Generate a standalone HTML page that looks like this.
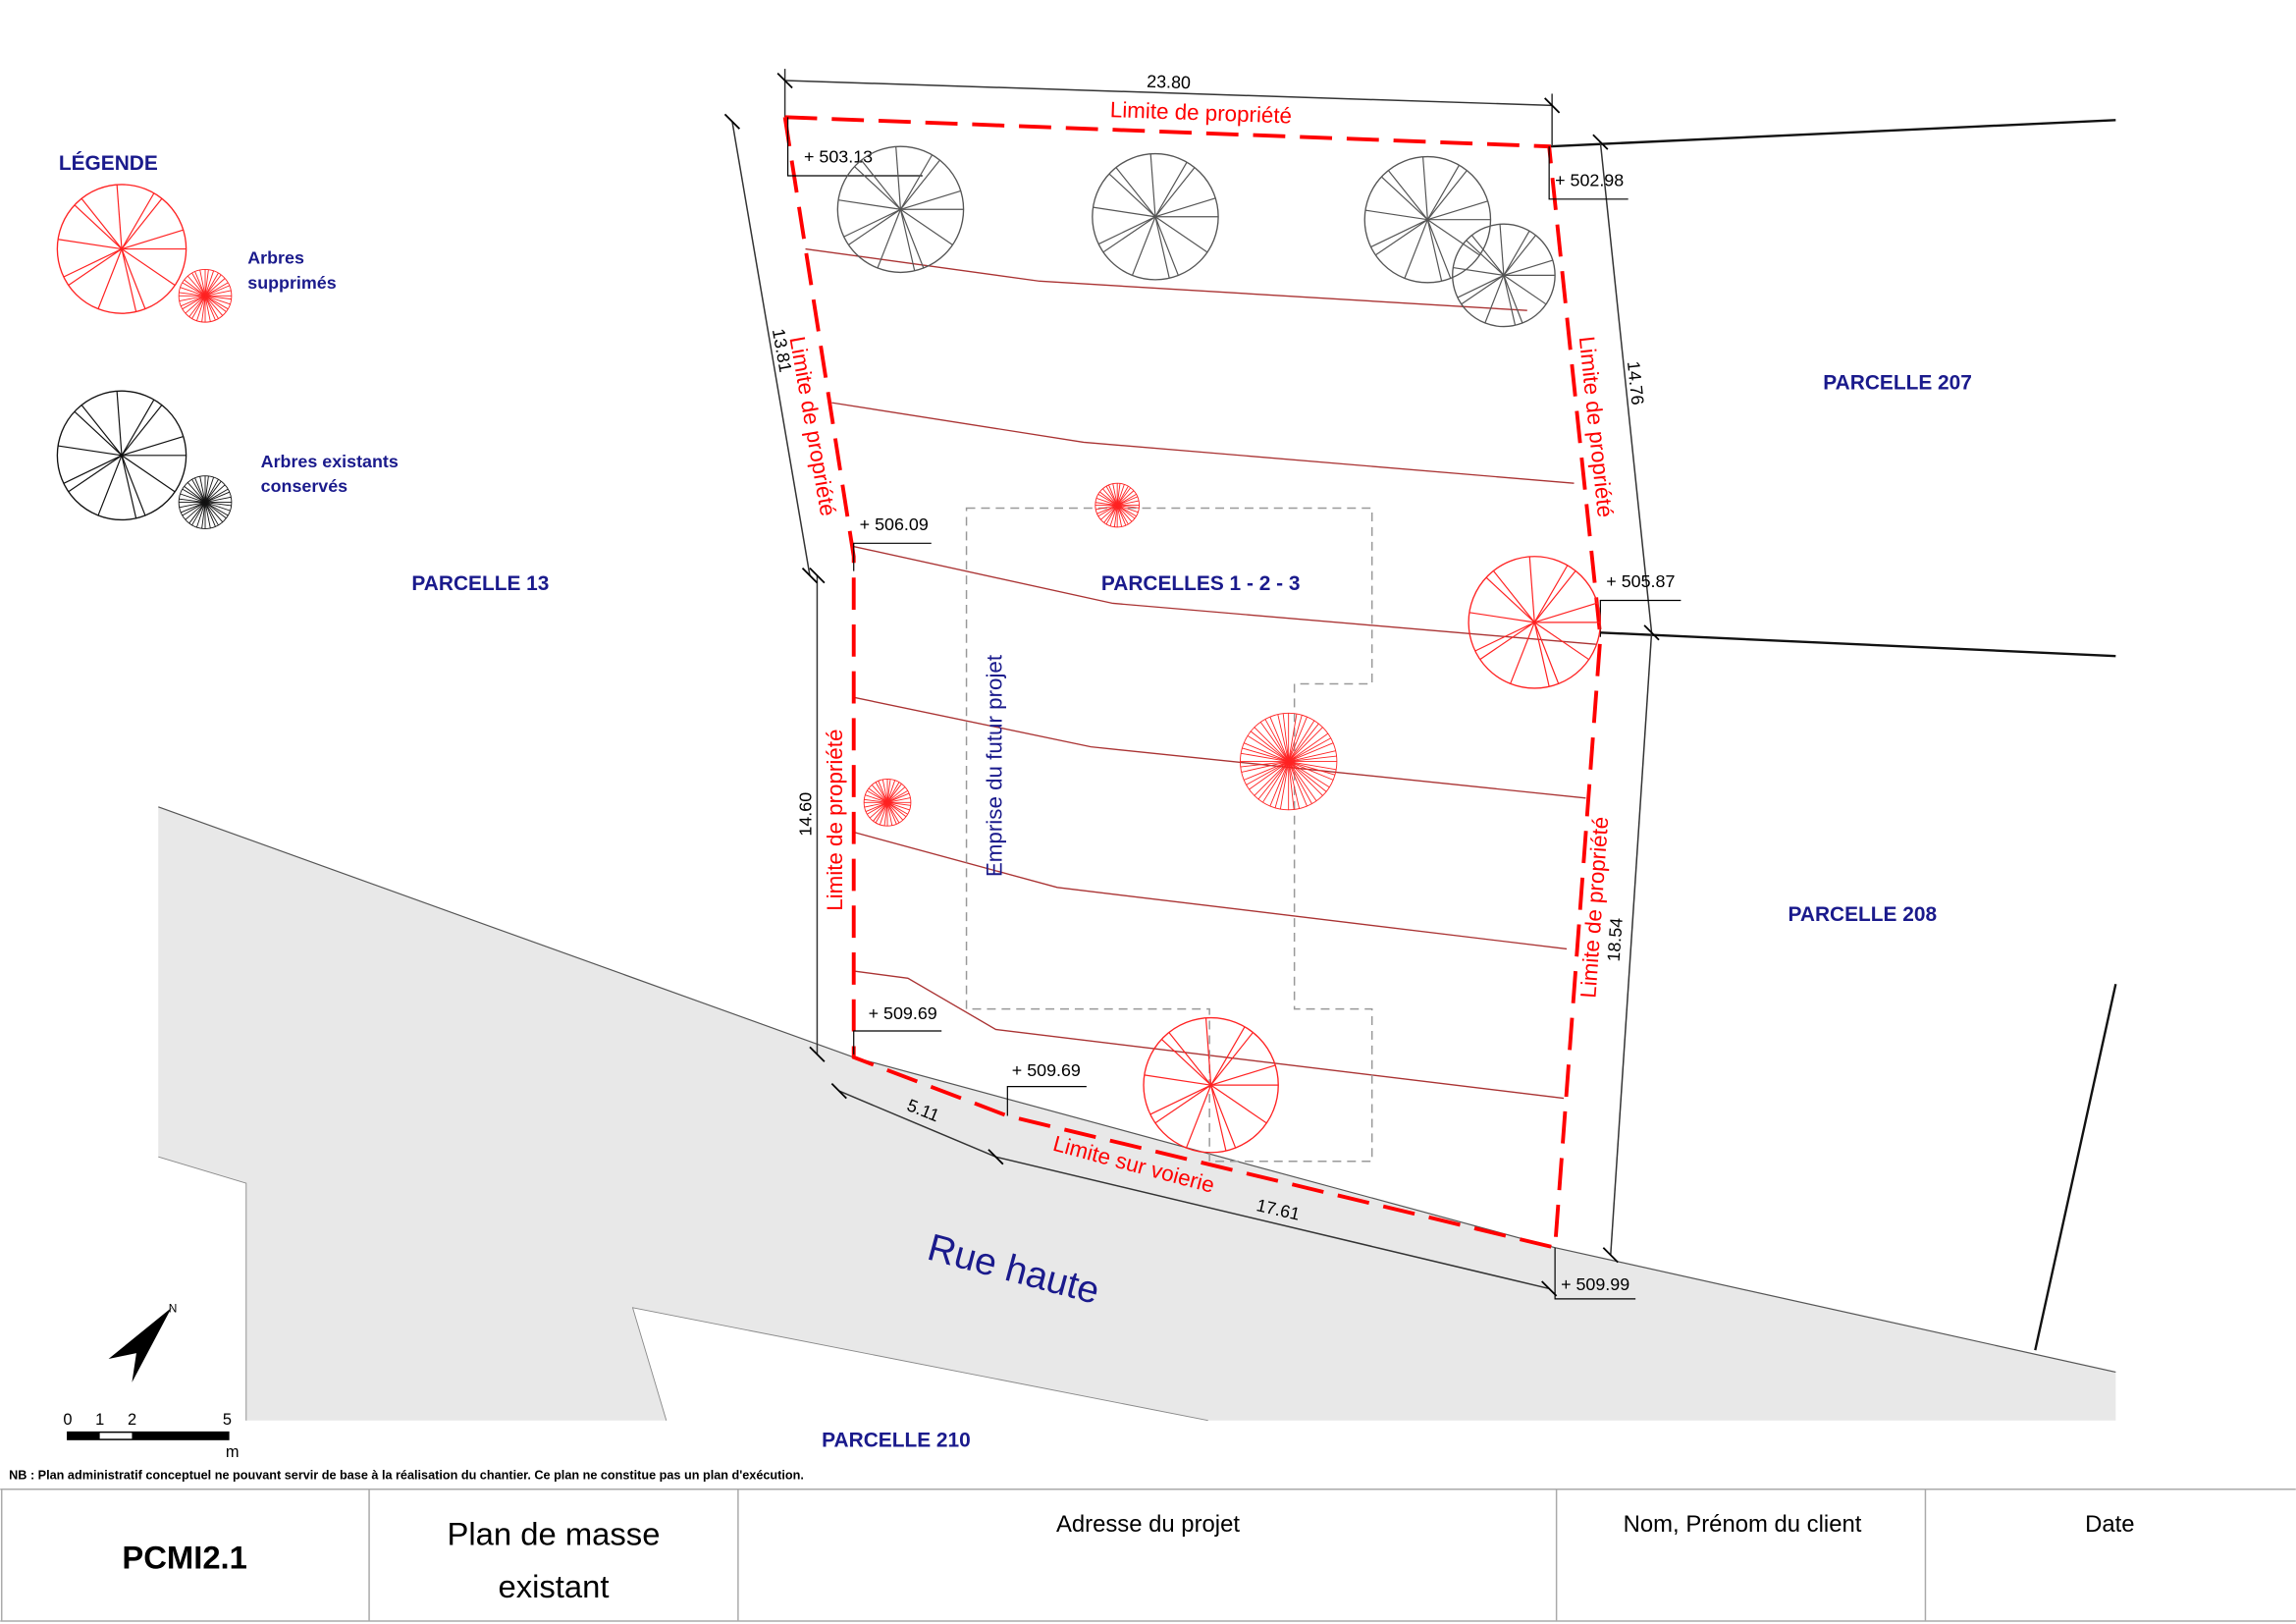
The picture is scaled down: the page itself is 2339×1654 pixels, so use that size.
<!DOCTYPE html>
<html><head><meta charset="utf-8"><style>
html,body{margin:0;padding:0;background:#fff;}
svg{display:block;}
text{font-family:"Liberation Sans",sans-serif;}
</style></head><body>
<svg id="s" width="2339" height="1654" viewBox="0 0 1568 1109" xmlns="http://www.w3.org/2000/svg">
<rect width="1568" height="1109" fill="#fff"/>
<polygon points="108,551 583,722 1062,852 1445,937 1445,970 825,970 432,893 455,970 168,970 168,808 108,790" fill="#e8e8e8"/>
<polyline points="108,551 583,722 1062,852 1445,937" fill="none" stroke="#555" stroke-width="0.8"/>
<polyline points="108,790 168,808 168,970" fill="none" stroke="#888" stroke-width="0.6"/>
<polyline points="455,970 432,893 825,970" fill="none" stroke="#888" stroke-width="0.6"/>
<g stroke="#111" stroke-width="1.6" fill="none">
<line x1="1058" y1="100" x2="1445" y2="82"/>
<line x1="1093" y1="432" x2="1445" y2="448"/>
<line x1="1445" y1="672" x2="1390" y2="922"/>
</g>
<g stroke="#a33" stroke-width="0.9" fill="none">
<polyline points="550,170 710,192 1043,212"/>
<polyline points="568,275 740,302 1075,330"/>
<polyline points="582,373 760,412 1090,440"/>
<polyline points="582,476 745,510 1083,545"/>
<polyline points="582,568 722,606 1070,648"/>
<polyline points="582,663 620,668 680,703 1068,750"/>
</g>
<polygon points="660,347 937,347 937,467 884,467 884,689 937,689 937,793 826,793 826,689 660,689" fill="none" stroke="#999" stroke-width="1" stroke-dasharray="6,4"/>
<g stroke="#333" stroke-width="1" fill="none">
<line x1="536" y1="55" x2="1060" y2="72"/>
<line x1="536" y1="47" x2="536" y2="80"/><line x1="1060" y1="64" x2="1060" y2="100"/>
<line x1="500" y1="83" x2="553" y2="393"/>
<line x1="1093" y1="97" x2="1128" y2="432"/>
<line x1="558" y1="393" x2="558" y2="720"/>
<line x1="1128" y1="432" x2="1100" y2="857"/>
<line x1="573" y1="745" x2="680" y2="790"/>
<line x1="680" y1="790" x2="1058" y2="880"/>
</g>
<g stroke="#000" stroke-width="1.2">
<line x1="531" y1="50" x2="541" y2="60"/><line x1="1055" y1="67" x2="1065" y2="77"/>
<line x1="495" y1="78" x2="505" y2="88"/><line x1="548" y1="388" x2="558" y2="398"/>
<line x1="1088" y1="92" x2="1098" y2="102"/><line x1="1123" y1="427" x2="1133" y2="437"/>
<line x1="553" y1="388" x2="563" y2="398"/><line x1="553" y1="715" x2="563" y2="725"/>
<line x1="1095" y1="852" x2="1105" y2="862"/>
<line x1="568" y1="740" x2="578" y2="750"/><line x1="675" y1="785" x2="685" y2="795"/>
<line x1="1053" y1="875" x2="1063" y2="885"/>
</g>
<polyline points="536,80 1058,100 1093,435 1062,852 688,762 583,722 583,380 536,80" fill="none" stroke="#f00" stroke-width="2.6" stroke-dasharray="22,10"/>
<g font-size="12" fill="#000" stroke="#000" stroke-width="0.8">
<g><polyline points="538,80 538,120 630,120" fill="none"/><text x="549" y="111" stroke="none">+ 503.13</text></g>
<g><polyline points="1058,100 1058,136 1112,136" fill="none"/><text x="1062" y="127" stroke="none">+ 502.98</text></g>
<g><polyline points="583,390 583,371 636,371" fill="none"/><text x="587" y="362" stroke="none">+ 506.09</text></g>
<g><polyline points="1093,435 1093,410 1148,410" fill="none"/><text x="1097" y="401" stroke="none">+ 505.87</text></g>
<g><polyline points="583,720 583,704 643,704" fill="none"/><text x="593" y="696" stroke="none">+ 509.69</text></g>
<g><polyline points="688,762 688,742 742,742" fill="none"/><text x="691" y="735" stroke="none">+ 509.69</text></g>
<g><polyline points="1062,852 1062,887 1117,887" fill="none"/><text x="1066" y="881" stroke="none">+ 509.99</text></g>
</g>
<g font-size="12" fill="#000">
<text x="798" y="60" text-anchor="middle" transform="rotate(2 798 60)">23.80</text>
<text transform="translate(530,240) rotate(80)" text-anchor="middle">13.81</text>
<text transform="translate(1113,262) rotate(84)" text-anchor="middle">14.76</text>
<text transform="translate(554,556) rotate(-90)" text-anchor="middle">14.60</text>
<text transform="translate(1107,642) rotate(-86)" text-anchor="middle">18.54</text>
<text transform="translate(629,762) rotate(22)" text-anchor="middle">5.11</text>
<text transform="translate(872,830) rotate(13)" text-anchor="middle">17.61</text>
</g>
<g id="trees"></g>
<g fill="#f00" font-size="15">
<text transform="translate(820,82) rotate(2)" text-anchor="middle">Limite de propriété</text>
<text transform="translate(550,292) rotate(80)" text-anchor="middle">Limite de propriété</text>
<text transform="translate(575,560) rotate(-90)" text-anchor="middle">Limite de propriété</text>
<text transform="translate(1085,292) rotate(84)" text-anchor="middle">Limite de propriété</text>
<text transform="translate(1094,620) rotate(-86)" text-anchor="middle">Limite de propriété</text>
<text transform="translate(773,800) rotate(15)" text-anchor="middle">Limite sur voierie</text>
</g>
<g fill="#1a1a8c" font-size="14" font-weight="bold">
<text x="40" y="116">LÉGENDE</text>
<text x="169" y="180" font-size="12">Arbres</text><text x="169" y="197" font-size="12">supprimés</text>
<text x="178" y="319" font-size="12">Arbres existants</text><text x="178" y="336" font-size="12">conservés</text>
<text x="1296" y="266" text-anchor="middle">PARCELLE 207</text>
<text x="328" y="403" text-anchor="middle">PARCELLE 13</text>
<text x="820" y="403" text-anchor="middle">PARCELLES 1 - 2 - 3</text>
<text x="1272" y="629" text-anchor="middle">PARCELLE 208</text>
<text x="612" y="988" text-anchor="middle">PARCELLE 210</text>
<text transform="translate(684,523) rotate(-90)" text-anchor="middle" font-size="15" font-weight="normal">Emprise du futur projet</text>
<text transform="translate(690,875) rotate(15)" text-anchor="middle" font-size="26" font-weight="normal">Rue haute</text>
</g>
<polygon points="117,893 74,928 93,924 90,944" fill="#000"/>
<text x="115" y="896" font-size="8">N</text>
<g font-size="11">
<text x="43" y="973">0</text><text x="65" y="973">1</text><text x="87" y="973">2</text><text x="152" y="973">5</text><text x="154" y="995">m</text>
</g>
<rect x="46" y="978" width="110" height="5" fill="#fff" stroke="#000" stroke-width="1"/>
<rect x="46" y="978" width="22" height="5" fill="#000"/><rect x="90" y="978" width="66" height="5" fill="#000"/>
<text x="6" y="1010" font-size="8.5" font-weight="bold">NB : Plan administratif conceptuel ne pouvant servir de base à la réalisation du chantier. Ce plan ne constitue pas un plan d'exécution.</text>
<g stroke="#aaa" stroke-width="1" fill="none">
<line x1="0" y1="1017" x2="1568" y2="1017"/>
<line x1="0" y1="1107" x2="1568" y2="1107"/>
<line x1="1" y1="1017" x2="1" y2="1107"/>
<line x1="252" y1="1017" x2="252" y2="1107"/>
<line x1="504" y1="1017" x2="504" y2="1107"/>
<line x1="1063" y1="1017" x2="1063" y2="1107"/>
<line x1="1315" y1="1017" x2="1315" y2="1107"/>
</g>
<g fill="#000" text-anchor="middle">
<text x="126" y="1071" font-size="22" font-weight="bold">PCMI2.1</text>
<text x="378" y="1055" font-size="22">Plan de masse</text>
<text x="378" y="1091" font-size="22">existant</text>
<text x="784" y="1046" font-size="16">Adresse du projet</text>
<text x="1190" y="1046" font-size="16">Nom, Prénom du client</text>
<text x="1441" y="1046" font-size="16">Date</text>
</g>
</svg>
<script>
var g=document.getElementById('trees'),ns='http://www.w3.org/2000/svg';
function tree(cx,cy,r,col,n,dense){
 var c=document.createElementNS(ns,'circle');c.setAttribute('cx',cx);c.setAttribute('cy',cy);c.setAttribute('r',r);
 c.setAttribute('fill','none');c.setAttribute('stroke',col);c.setAttribute('stroke-width',dense?0.6:0.9);g.appendChild(c);
 for(var i=0;i<n;i++){var a=i*2*Math.PI/n+(i%3)*0.15;var l=document.createElementNS(ns,'line');
 l.setAttribute('x1',cx);l.setAttribute('y1',cy);l.setAttribute('x2',cx+r*Math.cos(a));l.setAttribute('y2',cy+r*Math.sin(a));
 l.setAttribute('stroke',col);l.setAttribute('stroke-width',dense?0.6:0.8);g.appendChild(l);}
}
tree(615,143,43,'#555',14);tree(789,148,43,'#555',14);tree(975,150,43,'#555',14);tree(1027,188,35,'#555',14);
tree(1048,425,45,'#f22',14);tree(827,741,46,'#f22',14);
tree(763,345,15,'#f22',36,1);tree(880,520,33,'#f22',48,1);tree(606,548,16,'#f22',36,1);
tree(83,170,44,'#f22',14);tree(140,202,18,'#f22',36,1);
tree(83,311,44,'#111',14);tree(140,343,18,'#111',36,1);
</script>
</body></html>
